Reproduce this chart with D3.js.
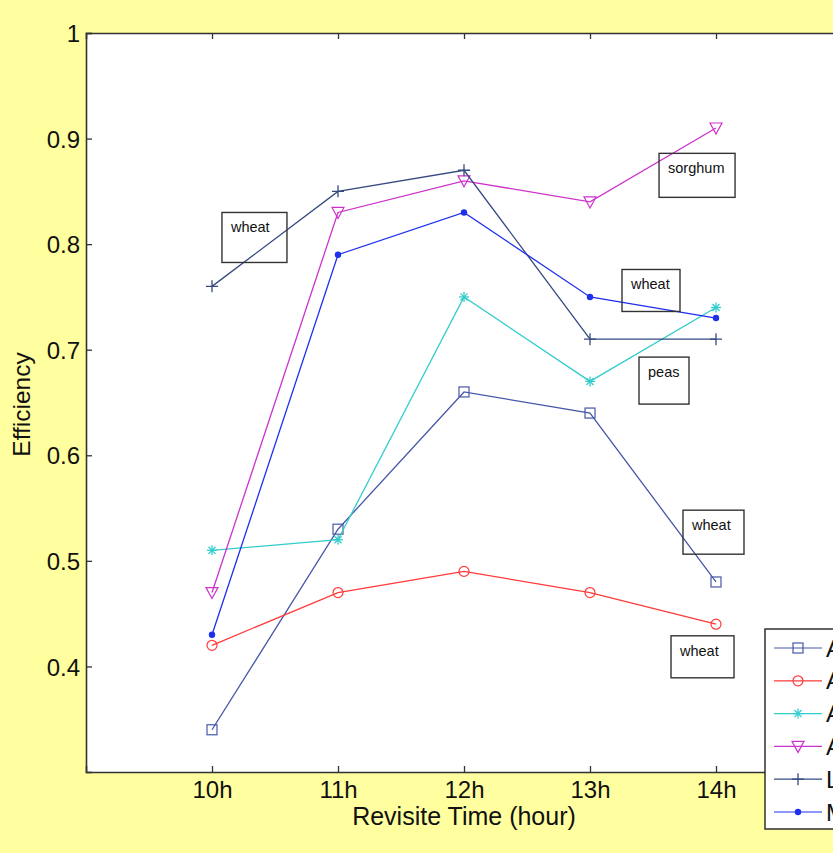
<!DOCTYPE html>
<html>
<head>
<meta charset="utf-8">
<script src="https://cdn.jsdelivr.net/npm/d3@7"></script>
<style>
  html, body { margin: 0; padding: 0; background: #ffff9f; }
  svg { display: block; }
  text { font-family: "Liberation Sans", Arial, sans-serif; fill: #111; }
</style>
</head>
<body>
<svg id="chart" width="833" height="853"></svg>
<script>
// Revisit times (hours) and their tick labels
const hours = [10, 11, 12, 13, 14];
const hourLabels = ["10h", "11h", "12h", "13h", "14h"];
const yTicks = [0.4, 0.5, 0.6, 0.7, 0.8, 0.9, 1];

// Efficiency per method
const seriesNames = ["ACO", "AGA", "APSO", "ASA", "LP", "MIP"];
const effA1 = [0.34, 0.53, 0.66, 0.64, 0.48];
const effA2 = [0.42, 0.47, 0.49, 0.47, 0.44];
const effA3 = [0.51, 0.52, 0.75, 0.67, 0.74];
const effA4 = [0.47, 0.83, 0.86, 0.84, 0.91];
const effL  = [0.76, 0.85, 0.87, 0.71, 0.71];
const effM  = [0.43, 0.79, 0.83, 0.75, 0.73];
const seriesColors = ["#4757a8", "#ff3a3a", "#33cccc", "#cc33cc", "#354a80", "#1f2fee"];
const seriesMarkers = ["square", "circle", "star", "triangle", "plus", "dot"];

// Crop annotations: label, and hour / efficiency of each box's top-left corner
const noteText = ["wheat", "sorghum", "wheat", "peas", "wheat", "wheat"];
const noteHour = [10.079, 13.548, 13.254, 13.389, 13.738, 13.643];
const noteEff  = [0.830, 0.886, 0.776, 0.693, 0.548, 0.429];
const noteW = [65, 76, 58, 50, 61, 63];
const noteH = [50, 44, 42, 47, 44, 42];

const allSeries = [effA1, effA2, effA3, effA4, effL, effM];

const svg = d3.select("#chart");
const margin = { left: 86, top: 33, right: 842, bottom: 772 };

const x = d3.scaleLinear().domain([9, 15]).range([margin.left, margin.right]);
const y = d3.scaleLinear().domain([0.3, 1]).range([margin.bottom, margin.top]);

// Plot background
svg.append("rect")
  .attr("x", margin.left).attr("y", margin.top)
  .attr("width", margin.right - margin.left)
  .attr("height", margin.bottom - margin.top)
  .attr("fill", "#ffffff");

// Axes with inward ticks
const axisColor = "#333";
const xAxis = svg.append("g").attr("transform", `translate(0,${margin.bottom})`)
  .call(d3.axisBottom(x).tickValues(hours).tickFormat((d, i) => hourLabels[i]).tickSize(-6).tickPadding(9));
const xTop = svg.append("g").attr("transform", `translate(0,${margin.top})`)
  .call(d3.axisTop(x).tickValues(hours).tickFormat("").tickSize(-6));
const yAxis = svg.append("g").attr("transform", `translate(${margin.left},0)`)
  .call(d3.axisLeft(y).tickValues(yTicks).tickFormat(d => d === 1 ? "1" : d3.format(".1f")(d)).tickSize(-6).tickPadding(6));
const yRight = svg.append("g").attr("transform", `translate(${margin.right},0)`)
  .call(d3.axisRight(y).tickValues(yTicks).tickFormat("").tickSize(-6));

[xAxis, xTop, yAxis, yRight].forEach(g => {
  g.select(".domain").attr("stroke", axisColor).attr("stroke-width", 1.6);
  g.selectAll(".tick line").attr("stroke", axisColor).attr("stroke-width", 1.3);
  g.selectAll(".tick text").attr("font-size", 24).attr("fill", "#111")
    .attr("font-family", "Liberation Sans, Arial, sans-serif");
});
yAxis.selectAll(".tick text").attr("dy", "0.36em");

// Axis titles
svg.append("text")
  .attr("x", x(12)).attr("y", 825)
  .attr("text-anchor", "middle").attr("font-size", 25)
  .text("Revisite Time (hour)");
svg.append("text")
  .attr("transform", `translate(29.5,${y(0.65) + 2}) rotate(-90)`)
  .attr("text-anchor", "middle").attr("font-size", 24.5)
  .text("Efficiency");

// Marker drawing
function drawMarker(g, type, cx, cy, color) {
  if (type === "square") {
    g.append("rect").attr("x", cx - 5).attr("y", cy - 5).attr("width", 10).attr("height", 10)
      .attr("fill", "none").attr("stroke", color).attr("stroke-width", 1.2);
  } else if (type === "circle") {
    g.append("circle").attr("cx", cx).attr("cy", cy).attr("r", 5)
      .attr("fill", "none").attr("stroke", color).attr("stroke-width", 1.2);
  } else if (type === "star") {
    const r = 5;
    [0, 45, 90, 135].forEach(a => {
      const t = a * Math.PI / 180;
      g.append("line")
        .attr("x1", cx - r * Math.cos(t)).attr("y1", cy - r * Math.sin(t))
        .attr("x2", cx + r * Math.cos(t)).attr("y2", cy + r * Math.sin(t))
        .attr("stroke", color).attr("stroke-width", 1.3);
    });
  } else if (type === "triangle") {
    g.append("path")
      .attr("d", `M${cx - 6},${cy - 5}L${cx + 6},${cy - 5}L${cx},${cy + 6}Z`)
      .attr("fill", "none").attr("stroke", color).attr("stroke-width", 1.2);
  } else if (type === "plus") {
    g.append("path")
      .attr("d", `M${cx - 6},${cy}L${cx + 6},${cy}M${cx},${cy - 6}L${cx},${cy + 6}`)
      .attr("stroke", color).attr("stroke-width", 1.3);
  } else if (type === "dot") {
    g.append("circle").attr("cx", cx).attr("cy", cy).attr("r", 3.2).attr("fill", color);
  }
}

// Series lines and markers
const line = d3.line().x((d, i) => x(hours[i])).y(d => y(d));
allSeries.forEach((vals, s) => {
  const g = svg.append("g");
  g.append("path").attr("d", line(vals))
    .attr("fill", "none").attr("stroke", seriesColors[s]).attr("stroke-width", 1.3);
  vals.forEach((v, i) => drawMarker(g, seriesMarkers[s], x(hours[i]), y(v), seriesColors[s]));
});

// Crop annotation boxes
noteText.forEach((t, i) => {
  const bx = x(noteHour[i]), by = y(noteEff[i]);
  const g = svg.append("g");
  g.append("rect").attr("x", bx).attr("y", by).attr("width", noteW[i]).attr("height", noteH[i])
    .attr("fill", "none").attr("stroke", "#333").attr("stroke-width", 1.4);
  g.append("text").attr("x", bx + 9).attr("y", by + 20)
    .attr("font-size", 14.5).text(t);
});

// Legend
const leg = svg.append("g");
const legX = 765, legY = 629;
leg.append("rect").attr("x", legX).attr("y", legY).attr("width", 120).attr("height", 200)
  .attr("fill", "#ffffff").attr("stroke", "#222").attr("stroke-width", 1.4);
seriesNames.forEach((name, s) => {
  const ly = legY + 19 + s * 32.8;
  leg.append("line").attr("x1", legX + 9).attr("x2", legX + 57).attr("y1", ly).attr("y2", ly)
    .attr("stroke", seriesColors[s]).attr("stroke-width", 1.2);
  drawMarker(leg, seriesMarkers[s], legX + 33, ly, seriesColors[s]);
  leg.append("text").attr("x", legX + 61).attr("y", ly).attr("dy", "0.36em")
    .attr("font-size", 24).text(name);
});
</script>
</body>
</html>
